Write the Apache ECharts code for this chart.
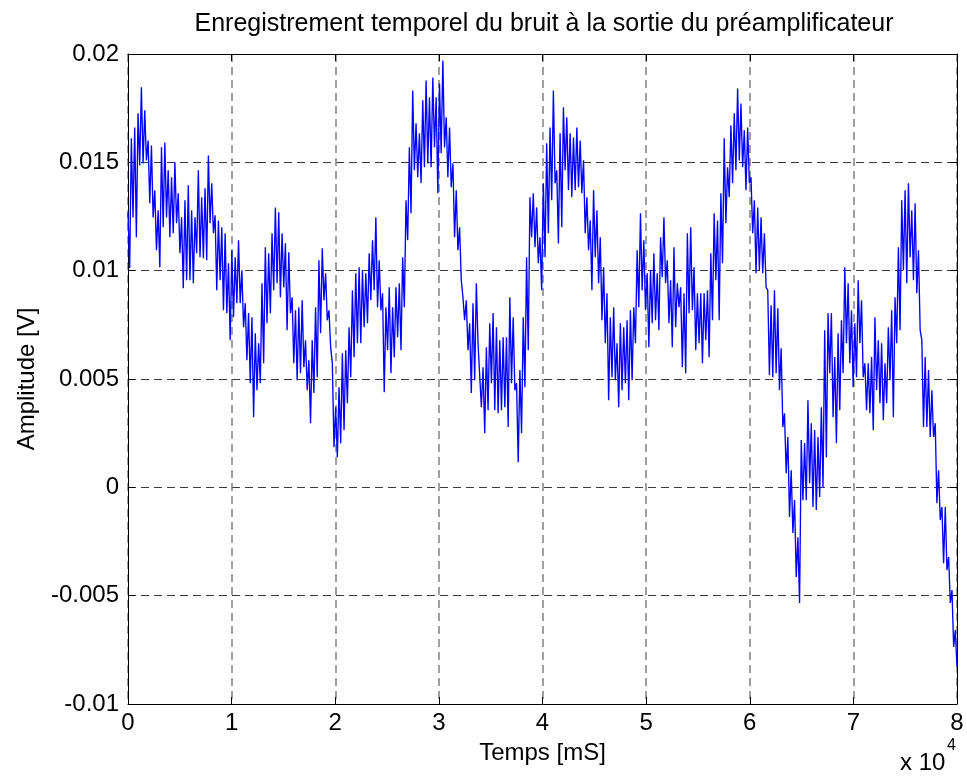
<!DOCTYPE html>
<html>
<head>
<meta charset="utf-8">
<title>Bruit préamplificateur</title>
<script src="https://cdn.jsdelivr.net/npm/echarts@6/dist/echarts.min.js"></script>
<style>
  html, body { margin: 0; padding: 0; background: #fff; }
  #chart { width: 967px; height: 778px; }
</style>
</head>
<body>
<div id="chart"></div>
<script>
// Noise record at the preamplifier output, 0 .. 8e4 mS, amplitude in volts.
// Samples are evenly spaced over the recording; each line holds successive samples.
const amplitude = [
  0.01269, 0.01011, 0.01611, 0.01246, 0.01661, 0.01154, 0.01726, 0.01486, 0.01846, 0.01495,
  0.01740, 0.01509, 0.01601, 0.01311, 0.01578, 0.01246, 0.01371, 0.01094, 0.01279, 0.01016,
  0.01569, 0.01200, 0.01592, 0.01246, 0.01463, 0.01154, 0.01431, 0.01173, 0.01500, 0.01219,
  0.01357, 0.01080, 0.01246, 0.00919, 0.01325, 0.00956, 0.01394, 0.00956, 0.01279, 0.00942,
  0.01246, 0.01080, 0.01463, 0.01062, 0.01339, 0.01057, 0.01380, 0.01048, 0.01532, 0.01219,
  0.01403, 0.01173, 0.01256, 0.00910, 0.01232, 0.00956, 0.01200, 0.00817, 0.01173, 0.00804,
  0.01034, 0.00679, 0.01094, 0.00785, 0.01062, 0.00850, 0.01140, 0.00850, 0.01002, 0.00739,
  0.00850, 0.00587, 0.00804, 0.00481, 0.00785, 0.00324, 0.00711, 0.00448, 0.00665, 0.00481,
  0.00942, 0.00573, 0.01108, 0.00757, 0.01080, 0.00804, 0.01173, 0.00910, 0.01292, 0.00942,
  0.01269, 0.00877, 0.01173, 0.00923, 0.01126, 0.00725, 0.01085, 0.00804, 0.00877, 0.00573,
  0.00817, 0.00494, 0.00831, 0.00527, 0.00863, 0.00554, 0.00679, 0.00448, 0.00587, 0.00296,
  0.00679, 0.00435, 0.00831, 0.00508, 0.01048, 0.00711, 0.01103, 0.00863, 0.00988, 0.00771,
  0.00817, 0.00647, 0.00573, 0.00185, 0.00370, 0.00139, 0.00462, 0.00204, 0.00619, 0.00264,
  0.00633, 0.00388, 0.00739, 0.00508, 0.00910, 0.00601, 0.00988, 0.00665, 0.01016, 0.00665,
  0.01002, 0.00739, 0.00988, 0.00757, 0.01080, 0.00863, 0.01140, 0.00910, 0.01246, 0.00831,
  0.01048, 0.00817, 0.00896, 0.00439, 0.00831, 0.00633, 0.00923, 0.00527, 0.00831, 0.00601,
  0.00923, 0.00693, 0.00942, 0.00633, 0.01062, 0.00831, 0.01325, 0.01140, 0.01569, 0.01265,
  0.01832, 0.01463, 0.01680, 0.01431, 0.01634, 0.01403, 0.01786, 0.01477, 0.01878, 0.01495,
  0.01800, 0.01477, 0.01892, 0.01569, 0.01800, 0.01357, 0.01864, 0.01542, 0.01970, 0.01569,
  0.01708, 0.01431, 0.01661, 0.01385, 0.01495, 0.01154, 0.01371, 0.01094, 0.01200, 0.00956,
  0.00877, 0.00771, 0.00863, 0.00633, 0.00757, 0.00435, 0.00850, 0.00494, 0.00942, 0.00665,
  0.00665, 0.00370, 0.00554, 0.00250, 0.00647, 0.00356, 0.00757, 0.00481, 0.00804, 0.00356,
  0.00739, 0.00342, 0.00679, 0.00356, 0.00693, 0.00370, 0.00693, 0.00278, 0.00877, 0.00481,
  0.00785, 0.00448, 0.00481, 0.00116, 0.00541, 0.00250, 0.00785, 0.00462, 0.01062, 0.00633,
  0.01339, 0.01154, 0.01357, 0.01108, 0.01292, 0.01034, 0.01154, 0.00910, 0.01403, 0.01062,
  0.01588, 0.01173, 0.01661, 0.01325, 0.01832, 0.01403, 0.01463, 0.01126, 0.01634, 0.01200,
  0.01754, 0.01463, 0.01708, 0.01371, 0.01634, 0.01339, 0.01615, 0.01371, 0.01661, 0.01385,
  0.01601, 0.01357, 0.01509, 0.01173, 0.01339, 0.01094, 0.01232, 0.00910, 0.01371, 0.01062,
  0.01279, 0.00942, 0.01154, 0.00771, 0.01016, 0.00665, 0.00896, 0.00402, 0.00785, 0.00508,
  0.00831, 0.00494, 0.00665, 0.00370, 0.00757, 0.00448, 0.00739, 0.00481, 0.00771, 0.00402,
  0.00817, 0.00494, 0.00831, 0.00665, 0.01094, 0.00831, 0.01265, 0.00910, 0.01140, 0.00817,
  0.00988, 0.00647, 0.01002, 0.00757, 0.01080, 0.00771, 0.00988, 0.00725, 0.01154, 0.00970,
  0.01246, 0.00942, 0.01048, 0.00757, 0.00956, 0.00647, 0.01108, 0.00739, 0.00942, 0.00831,
  0.00923, 0.00554, 0.00896, 0.00527, 0.01173, 0.00804, 0.01200, 0.00817, 0.01016, 0.00633,
  0.00896, 0.00665, 0.00896, 0.00573, 0.00896, 0.00679, 0.00910, 0.00601, 0.01080, 0.00771,
  0.01265, 0.00956, 0.01232, 0.00771, 0.01357, 0.01034, 0.01611, 0.01219, 0.01477, 0.01339,
  0.01671, 0.01403, 0.01726, 0.01463, 0.01841, 0.01509, 0.01772, 0.01477, 0.01648, 0.01371,
  0.01661, 0.01403, 0.01431, 0.01173, 0.01325, 0.00988, 0.01292, 0.01002, 0.01246, 0.00988,
  0.01173, 0.00923, 0.00910, 0.00517, 0.00840, 0.00508, 0.00910, 0.00527, 0.00826, 0.00448,
  0.00642, 0.00278, 0.00342, 0.00065, 0.00232, -0.00137, 0.00079, -0.00211, -0.00059, -0.00414,
  -0.00230, -0.00534, 0.00218, -0.00059, 0.00204, -0.00059, 0.00402, 0.00019, 0.00296, -0.00091,
  0.00264, -0.00105, 0.00232, -0.00045, 0.00370, 0.00000, 0.00725, 0.00139, 0.00804, 0.00527,
  0.00804, 0.00324, 0.00601, 0.00204, 0.00711, 0.00356, 0.00771, 0.00527, 0.01016, 0.00665,
  0.00942, 0.00573, 0.00817, 0.00462, 0.00757, 0.00508, 0.00956, 0.00665, 0.00863, 0.00508,
  0.00573, 0.00356, 0.00573, 0.00342, 0.00601, 0.00264, 0.00785, 0.00448, 0.00679, 0.00388,
  0.00665, 0.00310, 0.00573, 0.00388, 0.00739, 0.00494, 0.00817, 0.00324, 0.00877, 0.00665,
  0.01108, 0.00725, 0.01325, 0.01002, 0.01371, 0.00942, 0.01403, 0.01062, 0.01279, 0.00956,
  0.01311, 0.00896, 0.01094, 0.00725, 0.00679, 0.00278, 0.00601, 0.00278, 0.00541, 0.00232,
  0.00448, 0.00232, 0.00296, -0.00073, 0.00079, -0.00151, -0.00091, -0.00350, -0.00091, -0.00382,
  -0.00322, -0.00534, -0.00474, -0.00737, -0.00659, -0.00829
];

// Record length (mS) and axis ticks
const timeSpan = 80000;
const xTickValues = [0, 10000, 20000, 30000, 40000, 50000, 60000, 70000, 80000];
const yTickLabels = ['-0.01', '-0.005', '0', '0.005', '0.01', '0.015', '0.02'];

const titleText = 'Enregistrement temporel du bruit à la sortie du préamplificateur';
const xName = 'Temps [mS]';
const yName = 'Amplitude [V]';

const FONT = '"Liberation Sans", Arial, Helvetica, sans-serif';

const step = timeSpan / (amplitude.length - 1);
const points = amplitude.map((v, i) => [i * step, v]);

const chart = echarts.init(document.getElementById('chart'), null, { renderer: 'canvas' });

const tickStyle = { show: true, inside: true, length: 7, lineStyle: { color: '#000', width: 1 } };
const frameLine = { show: true, onZero: false, lineStyle: { color: '#000', width: 1 } };

chart.setOption({
  animation: false,
  backgroundColor: '#ffffff',
  grid: { left: 128, right: 10, top: 54, bottom: 74, containLabel: false },
  xAxis: [
    {
      type: 'value', position: 'bottom', min: 0, max: timeSpan, interval: 10000,
      axisLine: frameLine, axisTick: tickStyle,
      axisLabel: {
        color: '#000', fontSize: 24, fontFamily: FONT, margin: 7,
        formatter: v => String(xTickValues.indexOf(v) >= 0 ? v / 10000 : '')
      },
      splitLine: { show: true, lineStyle: { color: '#808080', width: 1.5, type: [8, 5] } },
      name: xName, nameLocation: 'middle', nameGap: 37,
      nameTextStyle: { color: '#000', fontSize: 24, fontFamily: FONT }
    },
    {
      type: 'value', position: 'top', min: 0, max: timeSpan, interval: 10000,
      axisLine: frameLine, axisTick: tickStyle,
      axisLabel: { show: false }, splitLine: { show: false }
    }
  ],
  yAxis: [
    {
      type: 'value', position: 'left', min: -0.01, max: 0.02, interval: 0.005,
      axisLine: frameLine, axisTick: tickStyle,
      axisLabel: {
        color: '#000', fontSize: 24, fontFamily: FONT, margin: 9,
        formatter: v => {
          const s = String(Number(v.toFixed(3)));
          return yTickLabels.indexOf(s) >= 0 ? s : '';
        }
      },
      splitLine: { show: true, lineStyle: { color: '#3a3a3a', width: 1, type: [8, 5] } },
      name: yName, nameLocation: 'middle', nameGap: 89,
      nameTextStyle: { color: '#000', fontSize: 24, fontFamily: FONT }
    },
    {
      type: 'value', position: 'right', min: -0.01, max: 0.02, interval: 0.005,
      axisLine: frameLine, axisTick: tickStyle,
      axisLabel: { show: false }, splitLine: { show: false }
    }
  ],
  series: [
    {
      type: 'line',
      data: points,
      xAxisIndex: 0,
      yAxisIndex: 0,
      showSymbol: false,
      symbol: 'none',
      sampling: null,
      lineStyle: { color: '#0000ff', width: 1.35 },
      z: 3
    }
  ],
  graphic: [
    {
      type: 'text', x: 544, y: 24,
      style: {
        text: titleText, fill: '#000', font: '25px ' + FONT,
        textAlign: 'center', textVerticalAlign: 'middle'
      }
    },
    {
      type: 'text', x: 900, y: 763,
      style: { text: 'x 10', fill: '#000', font: '24px ' + FONT, textAlign: 'left', textVerticalAlign: 'middle' }
    },
    {
      type: 'text', x: 947, y: 746,
      style: { text: '4', fill: '#000', font: '16px ' + FONT, textAlign: 'left', textVerticalAlign: 'middle' }
    }
  ]
});
</script>
</body>
</html>
